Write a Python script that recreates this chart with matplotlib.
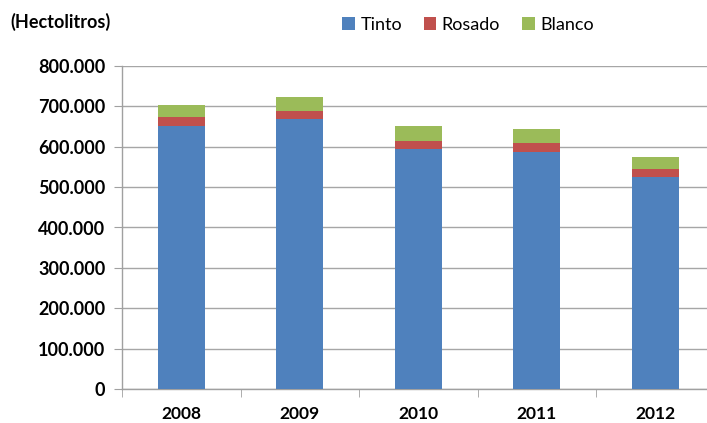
import matplotlib
matplotlib.use("Agg")
import matplotlib.pyplot as plt
import numpy as np

years = ["2008", "2009", "2010", "2011", "2012"]
tinto = [652000, 669000, 595000, 587000, 525000]
rosado = [22000, 20000, 20000, 22000, 20000]
blanco = [30000, 35000, 37000, 35000, 30000]
yticks = [0, 100000, 200000, 300000, 400000, 500000, 600000, 700000, 800000]
ytick_labels = ["0", "100.000", "200.000", "300.000", "400.000", "500.000",
                "600.000", "700.000", "800.000"]

plt.rcParams['font.family'] = ['Lato', 'DejaVu Sans']

fig = plt.figure(figsize=(7.07, 4.23), dpi=100)
ax = fig.add_axes([122/707, 34/423, 592.5/707, 323/423])

x = np.arange(len(years))
w = 0.4
c_t, c_r, c_b = "#4F81BD", "#C0504D", "#9BBB59"
ax.bar(x, tinto, w, color=c_t, label="Tinto", zorder=3)
ax.bar(x, rosado, w, bottom=tinto, color=c_r, label="Rosado", zorder=3)
bot2 = [a + b for a, b in zip(tinto, rosado)]
ax.bar(x, blanco, w, bottom=bot2, color=c_b, label="Blanco", zorder=3)

ax.set_xlim(-0.5, 4.5)
ax.set_ylim(0, 800000)
ax.set_yticks(yticks)
ax.set_yticklabels(ytick_labels, fontsize=13, fontweight='bold')
ax.set_xticks(x)
ax.set_xticklabels(years, fontsize=12.5, fontweight='bold')
ax.set_xticks(np.arange(-0.5, 4.6, 1), minor=True)
ax.tick_params(axis='x', which='major', length=0, pad=12)
ax.tick_params(axis='x', which='minor', length=6, color='#A0A0A0', direction='out')
ax.tick_params(axis='y', length=6, color='#A0A0A0', direction='out', pad=6)

ax.grid(axis='y', color='#A6A6A6', linewidth=1.0, zorder=0)
for s in ['top', 'right']:
    ax.spines[s].set_visible(False)
for s in ['left', 'bottom']:
    ax.spines[s].set_color('#A0A0A0')
    ax.spines[s].set_linewidth(1.0)

fig.text(10/707, 1 - 22/423, "(Hectolitros)", fontsize=13, fontweight='bold',
         va='center', ha='left')

fig.legend(loc='center', bbox_to_anchor=(468/707, 1 - 25/423), ncol=3,
           frameon=False, fontsize=13, handlelength=0.7, handleheight=0.7,
           handletextpad=0.3, columnspacing=1.2)

fig.savefig("out.png", dpi=100)
